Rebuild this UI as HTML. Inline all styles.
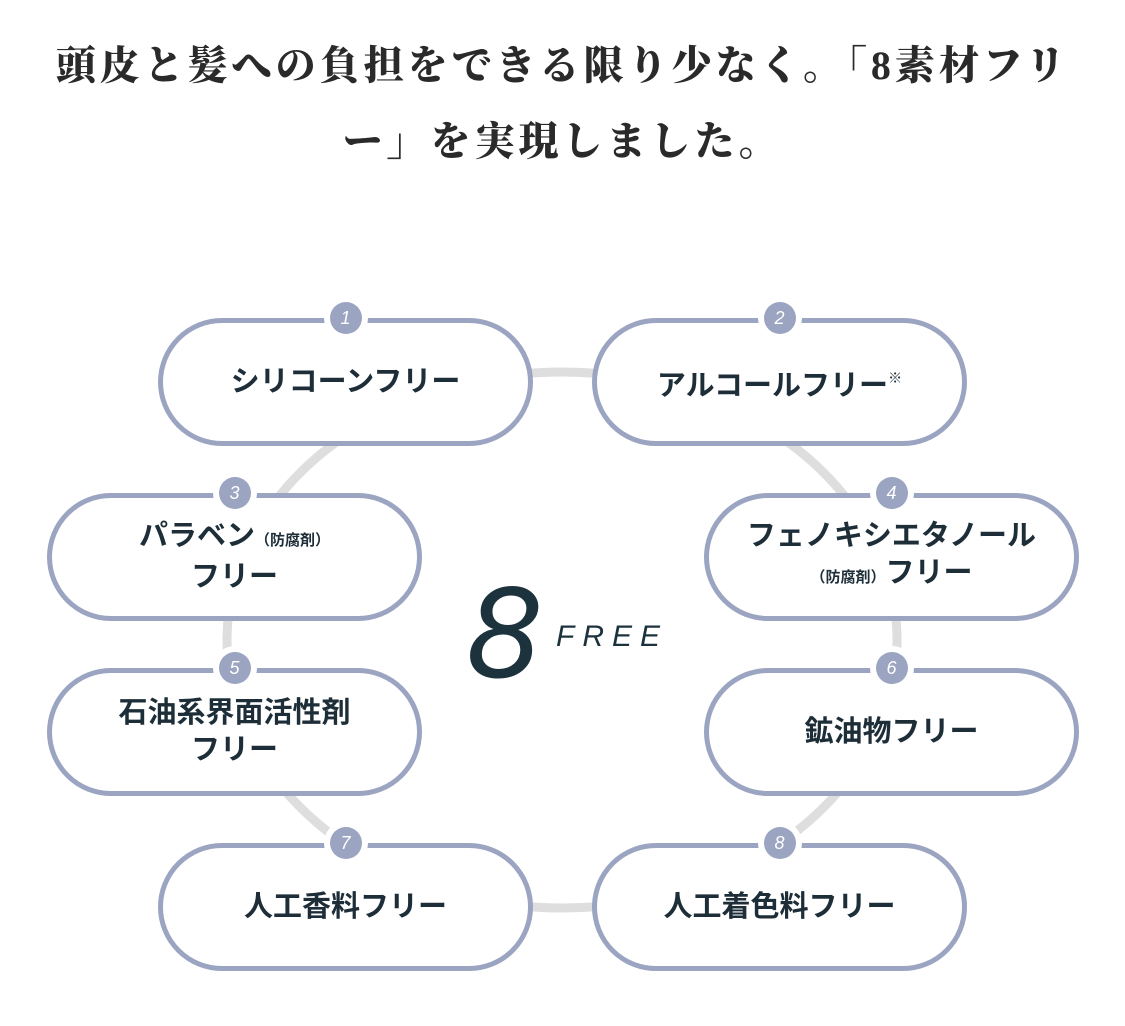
<!DOCTYPE html>
<html><head><meta charset="utf-8"><style>
body{margin:0;width:1125px;height:1026px;background:#fff;position:relative;overflow:hidden;font-family:"Liberation Sans","Noto Sans CJK JP",sans-serif}
h1{position:absolute;left:0;top:28px;width:1125px;margin:0;text-align:center;font-family:"Liberation Serif","Noto Serif CJK SC",serif;font-weight:900;font-size:40px;letter-spacing:4px;line-height:76px;color:#2a2a2a}
.p{position:absolute;width:365px;height:118px;border:5px solid #9ba4c1;border-radius:64px;background:#fff;display:flex;align-items:center;justify-content:center;text-align:center;font-weight:bold;font-size:29px;line-height:37px;color:#1d2e38}
.p>div{white-space:nowrap}
.b{position:absolute;width:32px;height:32px;border-radius:50%;background:#9ba4c1;color:#fff;font-style:italic;font-size:18px;text-align:center;line-height:32px;top:-21px;left:50%;margin-left:-16px;box-shadow:0 0 0 6px #fff;font-weight:normal}
small{font-size:15px}
sup{font-size:14px;vertical-align:12px}
</style></head><body>
<h1>頭皮と髪への負担をできる限り少なく。「8素材フリ<br>ー」を実現しました。</h1>
<svg style="position:absolute;left:0;top:0" width="1125" height="1026"><ellipse cx="562" cy="640" rx="335" ry="268" fill="none" stroke="#dedede" stroke-width="9"/></svg>
<div style="position:absolute;left:466px;top:575px;font-size:122px;font-style:italic;color:#1c323d;font-family:'DejaVu Sans',sans-serif;font-weight:300;line-height:120px">8</div>
<div style="position:absolute;left:556px;top:620px;font-size:30px;font-style:italic;color:#1c323d;letter-spacing:8px">FREE</div>
<div class="p" style="left:158px;top:318px"><span class="b">1</span><div>シリコーンフリー</div></div>
<div class="p" style="left:592px;top:318px"><span class="b">2</span><div>アルコールフリー<sup>※</sup></div></div>
<div class="p" style="left:47px;top:493px"><span class="b">3</span><div>パラベン<small>（防腐剤）</small><br>フリー</div></div>
<div class="p" style="left:704px;top:493px"><span class="b">4</span><div>フェノキシエタノール<br><small>（防腐剤）</small>フリー</div></div>
<div class="p" style="left:47px;top:668px"><span class="b">5</span><div>石油系界面活性剤<br>フリー</div></div>
<div class="p" style="left:704px;top:668px"><span class="b">6</span><div>鉱油物フリー</div></div>
<div class="p" style="left:158px;top:843px"><span class="b">7</span><div>人工香料フリー</div></div>
<div class="p" style="left:592px;top:843px"><span class="b">8</span><div>人工着色料フリー</div></div>
</body></html>
